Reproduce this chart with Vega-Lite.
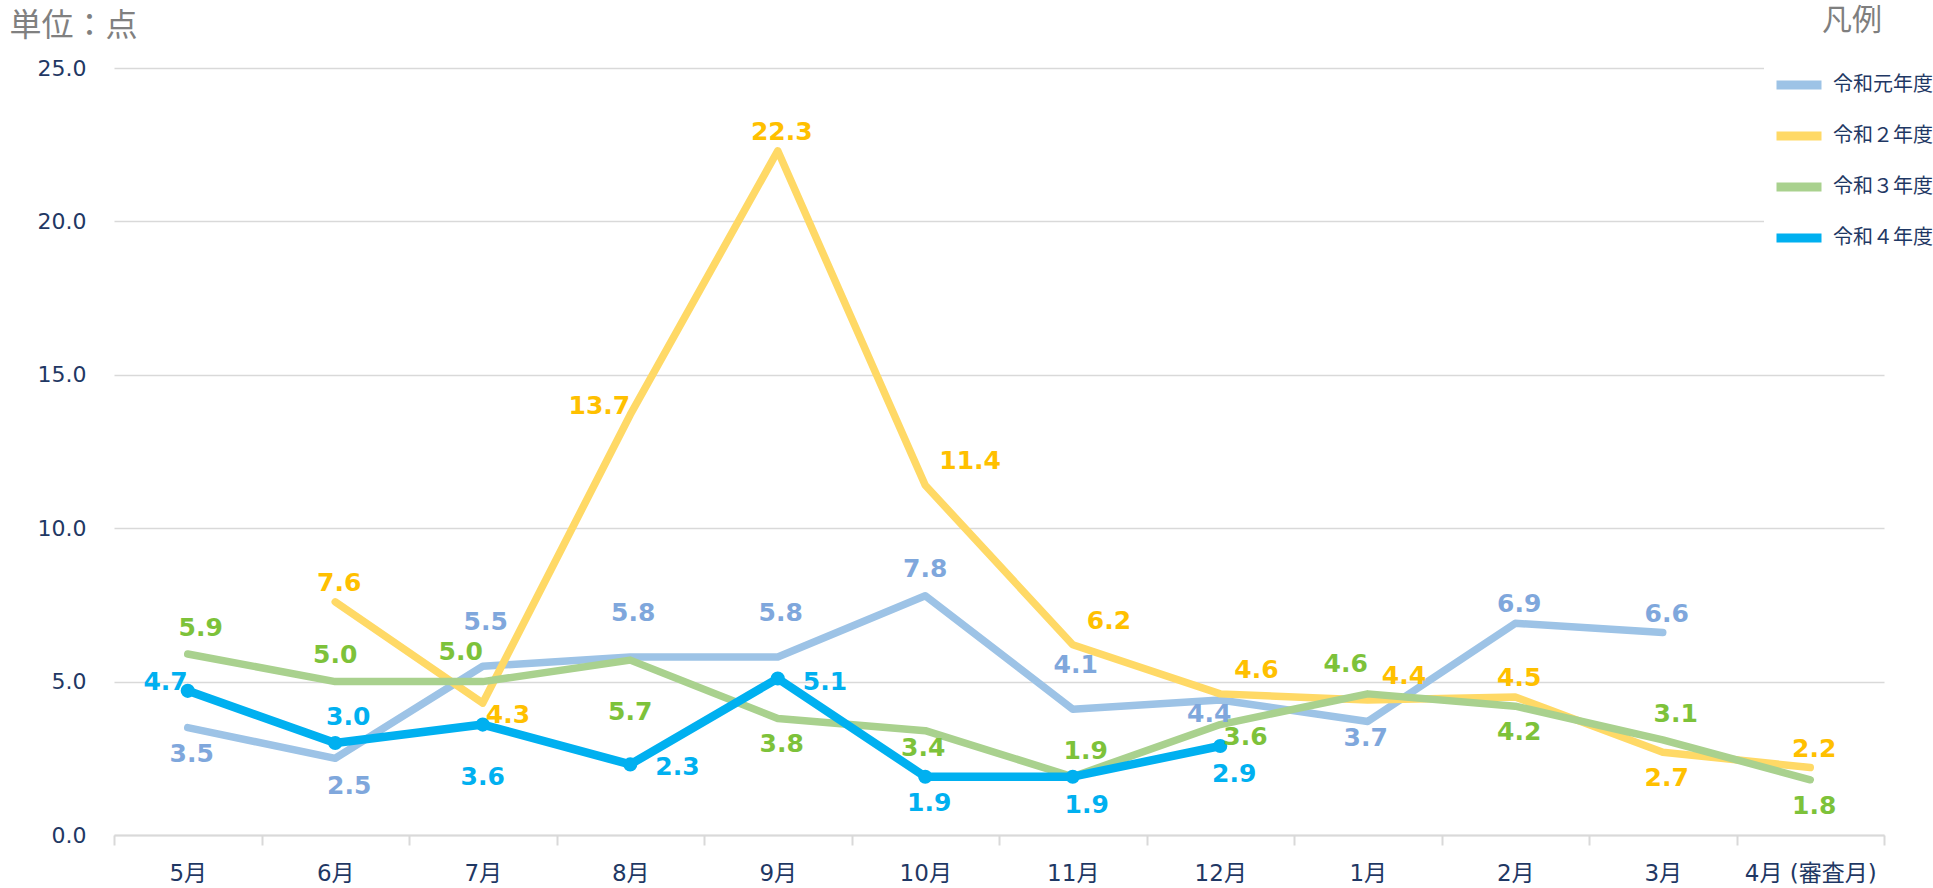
{
  "$schema": "https://vega.github.io/schema/vega-lite/v6.json",
  "width": 1770,
  "height": 767,
  "autosize": {"type": "none"},
  "padding": {"left": 114, "top": 68, "right": 49, "bottom": 53},
  "background": "white",
  "config": {
    "font": "DejaVu Sans, Noto Sans CJK JP",
    "view": {"stroke": null}
  },
  "data": {
    "values": [
      {"s": "令和元年度", "m": "5月", "v": 3.5},
      {"s": "令和元年度", "m": "6月", "v": 2.5},
      {"s": "令和元年度", "m": "7月", "v": 5.5},
      {"s": "令和元年度", "m": "8月", "v": 5.8},
      {"s": "令和元年度", "m": "9月", "v": 5.8},
      {"s": "令和元年度", "m": "10月", "v": 7.8},
      {"s": "令和元年度", "m": "11月", "v": 4.1},
      {"s": "令和元年度", "m": "12月", "v": 4.4},
      {"s": "令和元年度", "m": "1月", "v": 3.7},
      {"s": "令和元年度", "m": "2月", "v": 6.9},
      {"s": "令和元年度", "m": "3月", "v": 6.6},
      {"s": "令和２年度", "m": "6月", "v": 7.6},
      {"s": "令和２年度", "m": "7月", "v": 4.3},
      {"s": "令和２年度", "m": "8月", "v": 13.7},
      {"s": "令和２年度", "m": "9月", "v": 22.3},
      {"s": "令和２年度", "m": "10月", "v": 11.4},
      {"s": "令和２年度", "m": "11月", "v": 6.2},
      {"s": "令和２年度", "m": "12月", "v": 4.6},
      {"s": "令和２年度", "m": "1月", "v": 4.4},
      {"s": "令和２年度", "m": "2月", "v": 4.5},
      {"s": "令和２年度", "m": "3月", "v": 2.7},
      {"s": "令和２年度", "m": "4月 (審査月)", "v": 2.2},
      {"s": "令和３年度", "m": "5月", "v": 5.9},
      {"s": "令和３年度", "m": "6月", "v": 5.0},
      {"s": "令和３年度", "m": "7月", "v": 5.0},
      {"s": "令和３年度", "m": "8月", "v": 5.7},
      {"s": "令和３年度", "m": "9月", "v": 3.8},
      {"s": "令和３年度", "m": "10月", "v": 3.4},
      {"s": "令和３年度", "m": "11月", "v": 1.9},
      {"s": "令和３年度", "m": "12月", "v": 3.6},
      {"s": "令和３年度", "m": "1月", "v": 4.6},
      {"s": "令和３年度", "m": "2月", "v": 4.2},
      {"s": "令和３年度", "m": "3月", "v": 3.1},
      {"s": "令和３年度", "m": "4月 (審査月)", "v": 1.8},
      {"s": "令和４年度", "m": "5月", "v": 4.7},
      {"s": "令和４年度", "m": "6月", "v": 3.0},
      {"s": "令和４年度", "m": "7月", "v": 3.6},
      {"s": "令和４年度", "m": "8月", "v": 2.3},
      {"s": "令和４年度", "m": "9月", "v": 5.1},
      {"s": "令和４年度", "m": "10月", "v": 1.9},
      {"s": "令和４年度", "m": "11月", "v": 1.9},
      {"s": "令和４年度", "m": "12月", "v": 2.9}
    ]
  },
  "encoding": {
    "x": {
      "field": "m",
      "type": "ordinal",
      "bandPosition": 0.5,
      "scale": {
        "type": "band",
        "domain": ["5月", "6月", "7月", "8月", "9月", "10月", "11月", "12月", "1月", "2月", "3月", "4月 (審査月)"],
        "paddingInner": 0,
        "paddingOuter": 0
      },
      "axis": {
        "title": null,
        "labelAngle": 0,
        "labelFontSize": 23,
        "labelColor": "#1F3864",
        "labelPadding": 17,
        "domainColor": "#D9D9D9",
        "domainWidth": 2,
        "tickColor": "#D9D9D9",
        "tickWidth": 2,
        "tickSize": 10,
        "tickBand": "extent",
        "grid": false
      }
    },
    "y": {
      "field": "v",
      "type": "quantitative",
      "scale": {"domain": [0, 25], "nice": false},
      "axis": {
        "values": [0, 5, 10, 15, 20, 25],
        "format": ".1f",
        "title": "単位：点",
        "titleAngle": 0,
        "titleAlign": "left",
        "titleBaseline": "middle",
        "titleX": -105,
        "titleY": -43,
        "titleFontSize": 32,
        "titleFontWeight": "normal",
        "titleColor": "#808080",
        "labelFontSize": 22,
        "labelColor": "#1F3864",
        "labelPadding": 28,
        "ticks": false,
        "domain": false,
        "grid": true,
        "gridColor": "#D9D9D9",
        "gridWidth": 1.5
      }
    }
  },
  "layer": [
    {
      "layer": [
        {
          "mark": {"type": "line", "strokeWidth": 7.5, "strokeCap": "round", "strokeJoin": "round"},
          "transform": [{"filter": "datum.s != '令和４年度'"}],
          "encoding": {
            "color": {
              "field": "s",
              "type": "nominal",
              "scale": {
                "domain": ["令和元年度", "令和２年度", "令和３年度", "令和４年度"],
                "range": ["#9DC3E6", "#FFD966", "#A9D18E", "#00B0F0"]
              },
              "legend": {
                "title": "凡例",
                "orient": "none",
                "legendX": 1650,
                "legendY": -70,
                "direction": "vertical",
                "fillColor": "white",
                "padding": 8,
                "titleFontSize": 30,
                "titleFontWeight": "normal",
                "titleColor": "#7F7F7F",
                "titleAnchor": "middle",
                "titlePadding": 22,
                "labelFontSize": 20,
                "labelColor": "#1F3864",
                "labelOffset": 7,
                "symbolType": "stroke",
                "symbolSize": 2025,
                "symbolStrokeWidth": 9,
                "rowPadding": 6
              }
            }
          }
        },
        {
          "mark": {"type": "line", "strokeWidth": 8.5, "strokeCap": "round", "strokeJoin": "round"},
          "transform": [{"filter": "datum.s == '令和４年度'"}],
          "encoding": {
            "color": {"field": "s", "type": "nominal"}
          }
        },
        {
          "mark": {"type": "point", "filled": true, "size": 200, "color": "#00B0F0", "opacity": 1},
          "transform": [{"filter": "datum.s == '令和４年度'"}]
        }
      ]
    },
    {
      "encoding": {
        "text": {"field": "v", "type": "quantitative", "format": ".1f"},
        "color": {
          "field": "s",
          "type": "nominal",
          "scale": {
            "domain": ["令和元年度", "令和２年度", "令和３年度", "令和４年度"],
            "range": ["#7FA7DC", "#FFC000", "#7DC23A", "#00B0F0"]
          },
          "legend": null
        }
      },
      "layer": [
        {
          "transform": [{"filter": "indexof(['令和元年度|7月','令和元年度|8月','令和元年度|9月','令和元年度|11月'], datum.s + '|' + datum.m) >= 0"}],
          "mark": {"type": "text", "fontSize": 25, "fontWeight": "bold", "baseline": "middle", "align": "center", "dx": 3, "dy": -44}
        },
        {
          "transform": [{"filter": "indexof(['令和元年度|10月','令和３年度|6月'], datum.s + '|' + datum.m) >= 0"}],
          "mark": {"type": "text", "fontSize": 25, "fontWeight": "bold", "baseline": "middle", "align": "center", "dx": 0, "dy": -27}
        },
        {
          "transform": [{"filter": "indexof(['令和元年度|2月','令和元年度|3月','令和２年度|6月','令和２年度|9月','令和２年度|4月 (審査月)','令和２年度|2月'], datum.s + '|' + datum.m) >= 0"}],
          "mark": {"type": "text", "fontSize": 25, "fontWeight": "bold", "baseline": "middle", "align": "center", "dx": 4, "dy": -19}
        },
        {
          "transform": [{"filter": "indexof(['令和３年度|5月','令和３年度|11月','令和３年度|3月','令和４年度|6月'], datum.s + '|' + datum.m) >= 0"}],
          "mark": {"type": "text", "fontSize": 25, "fontWeight": "bold", "baseline": "middle", "align": "center", "dx": 13, "dy": -26}
        },
        {
          "transform": [{"filter": "indexof(['令和３年度|7月','令和３年度|1月'], datum.s + '|' + datum.m) >= 0"}],
          "mark": {"type": "text", "fontSize": 25, "fontWeight": "bold", "baseline": "middle", "align": "center", "dx": -22, "dy": -30}
        },
        {
          "transform": [{"filter": "indexof(['令和元年度|5月','令和２年度|3月','令和３年度|9月','令和３年度|2月','令和３年度|4月 (審査月)','令和４年度|10月'], datum.s + '|' + datum.m) >= 0"}],
          "mark": {"type": "text", "fontSize": 25, "fontWeight": "bold", "baseline": "middle", "align": "center", "dx": 4, "dy": 26}
        },
        {
          "transform": [{"filter": "indexof(['令和元年度|6月','令和４年度|11月','令和４年度|12月'], datum.s + '|' + datum.m) >= 0"}],
          "mark": {"type": "text", "fontSize": 25, "fontWeight": "bold", "baseline": "middle", "align": "center", "dx": 14, "dy": 28}
        },
        {
          "transform": [{"filter": "indexof(['令和元年度|1月','令和３年度|10月'], datum.s + '|' + datum.m) >= 0"}],
          "mark": {"type": "text", "fontSize": 25, "fontWeight": "bold", "baseline": "middle", "align": "center", "dx": -2, "dy": 17}
        },
        {
          "transform": [{"filter": "indexof(['令和元年度|12月'], datum.s + '|' + datum.m) >= 0"}],
          "mark": {"type": "text", "fontSize": 25, "fontWeight": "bold", "baseline": "middle", "align": "center", "dx": -11, "dy": 14}
        },
        {
          "transform": [{"filter": "indexof(['令和３年度|8月','令和４年度|7月'], datum.s + '|' + datum.m) >= 0"}],
          "mark": {"type": "text", "fontSize": 25, "fontWeight": "bold", "baseline": "middle", "align": "center", "dx": 0, "dy": 52}
        },
        {
          "transform": [{"filter": "indexof(['令和２年度|7月','令和３年度|12月'], datum.s + '|' + datum.m) >= 0"}],
          "mark": {"type": "text", "fontSize": 25, "fontWeight": "bold", "baseline": "middle", "align": "left", "dx": 3, "dy": 12}
        },
        {
          "transform": [{"filter": "indexof(['令和４年度|8月','令和４年度|9月'], datum.s + '|' + datum.m) >= 0"}],
          "mark": {"type": "text", "fontSize": 25, "fontWeight": "bold", "baseline": "middle", "align": "left", "dx": 25, "dy": 3}
        },
        {
          "transform": [{"filter": "indexof(['令和２年度|10月','令和２年度|11月','令和２年度|12月','令和２年度|1月'], datum.s + '|' + datum.m) >= 0"}],
          "mark": {"type": "text", "fontSize": 25, "fontWeight": "bold", "baseline": "middle", "align": "left", "dx": 14, "dy": -24}
        },
        {
          "transform": [{"filter": "indexof(['令和２年度|8月','令和４年度|5月'], datum.s + '|' + datum.m) >= 0"}],
          "mark": {"type": "text", "fontSize": 25, "fontWeight": "bold", "baseline": "middle", "align": "right", "dx": 0, "dy": -9}
        }
      ]
    }
  ],
  "resolve": {"scale": {"color": "independent"}}
}
